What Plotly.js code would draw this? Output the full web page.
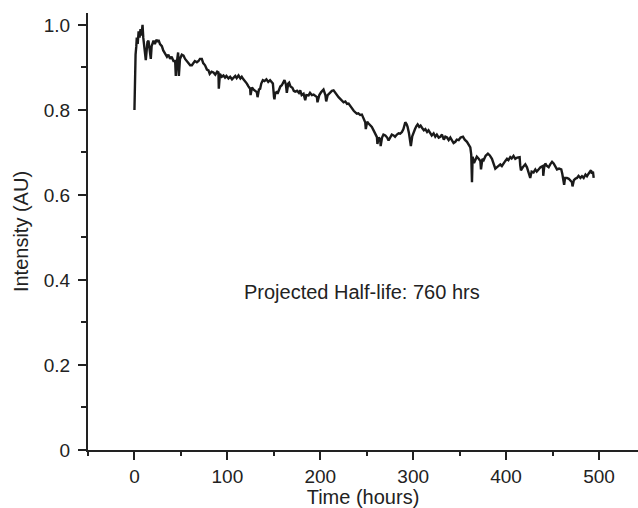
<!DOCTYPE html>
<html>
<head>
<meta charset="utf-8">
<script src="https://cdn.plot.ly/plotly-3.0.1.min.js"></script>
<style>html,body{margin:0;padding:0;background:#fff;}#chart{width:638px;height:508px;}</style>
</head>
<body>
<div id="chart"></div>
<script>
const hours = [0,0.3,0.7,1.2,2,2.5,3.5,4.5,5.5,6.5,7.5,8.7,9.5,10.5,11.3,12.2,13,14,15.1,16,17.6,18.5,19.5,20.5,22,23.5,25,25.9,27.5,29.5,31,33,35,36.5,38.4,40,42,43.8,44.5,45.5,47,47.8,49,51,52.8,54.5,56.4,58,60,61.8,63.5,65,67.2,69,70.5,72.5,74,76,78,79.7,81,83,85,87,89,90.4,90.8,92,94,95.8,97.5,99,101.2,103,105,106.6,108.5,110,112,114,115.5,117.3,119,121,122.5,124.5,125,126.5,128,130,131.7,132.5,134,135.3,136.5,138.2,140,142,144,146,147.5,149,150.2,150.7,151.5,153,154,155.5,157,158.6,160,161.5,163,164,165.5,166.5,168,170,171.5,173,175,177,178.4,180,182,183.8,185,187.4,189,191,192.8,194.5,196.4,197,199,201,203.5,205.5,206.4,208,210.7,212.5,214.3,216,218,219.7,221.5,223,225.1,227,228.8,230.5,232.5,234.1,236,237.5,239.4,241,243,244.8,246.5,248.4,249,250.5,252,253.8,255.5,257.4,259,261,261.5,263,264.6,265,266.5,268,270,272,273.5,275.3,277,278.9,280.5,282.5,284.3,286,287.9,289.5,290.5,291.5,293,294,295.5,296.9,297.5,299,300.5,302,303.5,304.8,306.5,308,309.5,311.5,313.1,315,316.5,318.4,320,322,323.8,325.5,327.5,329.2,331,333,334.6,336.5,338.2,340,341.8,343.5,345.4,347,349,351,353.6,355.5,357.9,359.5,361.5,362.5,363.3,364,365.5,366.9,368.5,370.5,372.3,373,374.5,375.9,378,380.5,382.5,384.8,386.5,388.4,390,392,393.8,395.5,397.5,399.2,401,402.5,404.5,406,408,409.9,412,414.6,415.2,416,418,420.7,422.5,424,425.3,426,427.5,429.6,431.5,433,435,437,439.7,440,441,442.2,444,445.8,447.5,449.5,451.2,453,454.8,457,459.4,460.5,461.9,462.5,463.5,465.5,467.5,469.5,470.9,471.5,473,474.5,476.3,478,480,481.7,483.5,485.5,487.1,488.8,490,491.4,492.5,493.5,494.3];
const intensity = [0.80,0.86,0.89,0.93,0.95,0.97,0.955,0.985,0.97,0.99,0.975,1.0,0.97,0.955,0.935,0.917,0.945,0.96,0.963,0.945,0.92,0.95,0.955,0.963,0.955,0.965,0.96,0.965,0.955,0.95,0.94,0.933,0.925,0.93,0.92,0.925,0.915,0.915,0.88,0.91,0.935,0.88,0.92,0.93,0.928,0.92,0.915,0.91,0.905,0.905,0.91,0.915,0.912,0.915,0.92,0.92,0.91,0.905,0.895,0.893,0.885,0.89,0.888,0.883,0.89,0.888,0.85,0.885,0.878,0.881,0.876,0.88,0.874,0.878,0.872,0.876,0.88,0.875,0.881,0.874,0.878,0.872,0.868,0.862,0.856,0.85,0.835,0.853,0.848,0.845,0.842,0.83,0.848,0.85,0.862,0.87,0.868,0.872,0.866,0.87,0.865,0.862,0.83,0.825,0.84,0.842,0.838,0.848,0.855,0.858,0.866,0.87,0.86,0.84,0.862,0.864,0.855,0.852,0.845,0.843,0.845,0.84,0.846,0.835,0.838,0.823,0.835,0.834,0.84,0.835,0.836,0.832,0.83,0.818,0.835,0.842,0.848,0.835,0.82,0.835,0.842,0.845,0.846,0.84,0.836,0.83,0.826,0.822,0.818,0.82,0.814,0.815,0.808,0.803,0.798,0.795,0.791,0.792,0.788,0.789,0.78,0.771,0.755,0.772,0.768,0.765,0.76,0.752,0.745,0.736,0.72,0.735,0.73,0.715,0.735,0.742,0.74,0.735,0.728,0.735,0.742,0.74,0.737,0.742,0.745,0.744,0.748,0.755,0.765,0.771,0.766,0.76,0.745,0.73,0.715,0.738,0.748,0.755,0.762,0.766,0.76,0.763,0.758,0.752,0.755,0.748,0.752,0.745,0.74,0.745,0.737,0.742,0.735,0.737,0.742,0.73,0.737,0.735,0.729,0.735,0.729,0.722,0.725,0.73,0.729,0.735,0.737,0.73,0.725,0.718,0.712,0.695,0.63,0.69,0.675,0.682,0.69,0.685,0.68,0.66,0.685,0.682,0.692,0.697,0.693,0.685,0.675,0.662,0.665,0.67,0.672,0.668,0.676,0.68,0.685,0.682,0.689,0.686,0.692,0.685,0.688,0.689,0.67,0.658,0.665,0.672,0.665,0.655,0.649,0.64,0.655,0.653,0.66,0.655,0.66,0.665,0.668,0.645,0.665,0.674,0.668,0.665,0.672,0.678,0.674,0.668,0.66,0.662,0.66,0.65,0.635,0.624,0.64,0.64,0.638,0.632,0.63,0.62,0.635,0.638,0.64,0.645,0.64,0.644,0.64,0.648,0.644,0.65,0.655,0.658,0.65,0.655,0.64];
const yTickVals = [0,0.2,0.4,0.6,0.8,1.0];
const yTickText = ["0","0.2","0.4","0.6","0.8","1.0"];
const xTickVals = [0,100,200,300,400,500];
const xTickText = ["0","100","200","300","400","500"];
const noteText = "Projected Half-life: 760 hrs";
const noteX = 245, noteY = 0.371;

const FONT = "Liberation Sans, Arial, sans-serif";
const axisColor = "#222";

Plotly.newPlot("chart", [{
  x: hours, y: intensity, type: "scatter", mode: "lines",
  line: {color: "#1a1a1a", width: 2.4}, hoverinfo: "skip"
}], {
  width: 638, height: 508,
  margin: {l: 88, r: 0, t: 13, b: 58},
  paper_bgcolor: "#fff", plot_bgcolor: "#fff",
  showlegend: false,
  font: {family: FONT, color: "#222", size: 19},
  xaxis: {
    range: [-50, 542], showgrid: false, zeroline: false,
    showline: true, linecolor: axisColor, linewidth: 2,
    tickmode: "array", tickvals: xTickVals, ticktext: xTickText,
    ticks: "outside", ticklen: 8, tickwidth: 2, tickcolor: axisColor,
    minor: {tickmode: "linear", tick0: 0, dtick: 50, ticks: "outside", ticklen: 4, tickwidth: 2, tickcolor: axisColor, showgrid: false},
    tickfont: {size: 19, family: FONT, color: "#222"},
    title: {text: "Time (hours)", font: {size: 20, family: FONT, color: "#222"}, standoff: 2}
  },
  yaxis: {
    range: [0, 1.028], showgrid: false, zeroline: false,
    showline: true, linecolor: axisColor, linewidth: 2,
    tickmode: "array", tickvals: yTickVals, ticktext: yTickText,
    ticks: "outside", ticklen: 8, tickwidth: 2, tickcolor: axisColor,
    minor: {tickmode: "linear", tick0: 0, dtick: 0.1, ticks: "outside", ticklen: 5, tickwidth: 2, tickcolor: axisColor, showgrid: false},
    tickfont: {size: 19, family: FONT, color: "#222"},
    ticklabelstandoff: 4,
    title: {text: "Intensity (AU)", font: {size: 20, family: FONT, color: "#222"}, standoff: 10}
  },
  annotations: [{
    x: noteX, y: noteY, xref: "x", yref: "y", text: noteText, showarrow: false,
    font: {size: 20, family: FONT, color: "#222"}, xanchor: "center", yanchor: "middle"
  }]
}, {displayModeBar: false, staticPlot: true});
</script>
</body>
</html>
